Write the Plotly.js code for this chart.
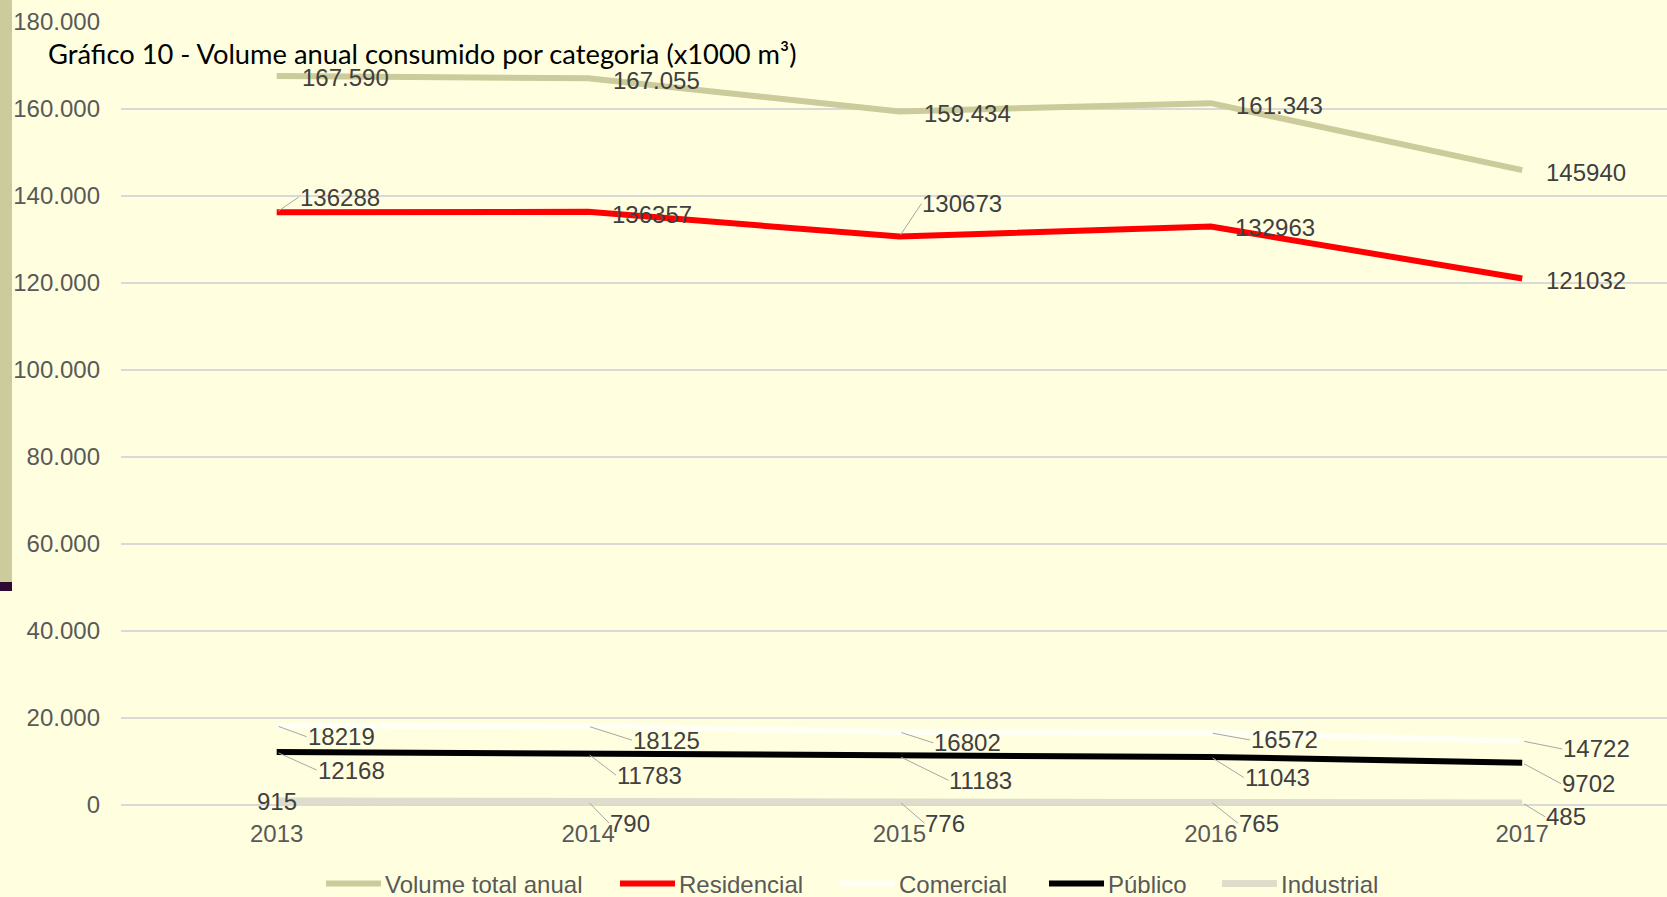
<!DOCTYPE html>
<html>
<head>
<meta charset="utf-8">
<script src="https://cdn.plot.ly/plotly-3.0.1.min.js"></script>
<style>
  html, body { margin: 0; padding: 0; background: #FFFFE0; }
  #wrap { position: relative; width: 1667px; height: 897px; overflow: hidden; }
  #chart { width: 1667px; height: 897px; }
  #barA { position: absolute; left: 0; top: 0; width: 12px; height: 582px; background: #CBCB9B; }
  #barB { position: absolute; left: 0; top: 582px; width: 12px; height: 9px; background: #2E0A33; }
</style>
</head>
<body>
<div id="wrap">
  <div id="chart"></div>
  <div id="barA"></div>
  <div id="barB"></div>
</div>
<script>
// ---- data ----
const years = ['2013', '2014', '2015', '2016', '2017'];
const seriesNames = ['Volume total anual', 'Residencial', 'Comercial', 'Público', 'Industrial'];
const volumeTotal = [167590, 167055, 159434, 161343, 145940];
const residencial = [136288, 136357, 130673, 132963, 121032];
const comercial   = [18219, 18125, 16802, 16572, 14722];
const publico     = [12168, 11783, 11183, 11043, 9702];
const industrial  = [915, 790, 776, 765, 485];
const totalLabelGrouped = [true, true, true, true, false];
const yTickValues = [0, 20000, 40000, 60000, 80000, 100000, 120000, 140000, 160000, 180000];

// ---- styling ----
const colors = ['#CBCB9B', '#FF0000', '#FFFFF4', '#000000', '#DEDDCB'];
const widths = [6, 6, 6, 6, 7];
// legend entry left positions (px in page)
const legendLeft = [326, 620, 840, 1049, 1222];
const legendSymbolLength = 55;

// label placements (pixel offsets from the point: dx right, dy down; leader = draw leader line)
const labelPlacement = [
  { dx: [24, 24, 24, 24, 23], dy: [2, 2, 2, 2, 2], leader: [0, 0, 0, 0, 0] },
  { dx: [24, 23, 24, 23, 23], dy: [-15, 2.5, -33, 1, 2], leader: [1, 0, 1, 0, 0] },
  { dx: [32, 46, 36, 41, 42], dy: [11, 14, 11, 7, 8], leader: [1, 1, 1, 1, 1] },
  { dx: [42, 30, 51, 35, 41], dy: [18, 21.5, 24, 20.5, 21], leader: [1, 1, 1, 1, 1] },
  { dx: [0, 23, 27, 29, 25], dy: [0, 21.5, 21.5, 21.5, 14], leader: [0, 1, 1, 1, 1] }
];

const allSeries = [volumeTotal, residencial, comercial, publico, industrial];

function groupDots(v) {
  return String(v).replace(/\B(?=(\d{3})+(?!\d))/g, '.');
}

const traces = allSeries.map((vals, i) => ({
  type: 'scatter',
  mode: 'lines',
  name: seriesNames[i],
  x: years,
  y: vals,
  line: { color: colors[i], width: widths[i] },
  legend: i === 0 ? 'legend' : 'legend' + (i + 1),
  hoverinfo: 'x+y+name'
}));

const annotations = [];
allSeries.forEach((vals, s) => {
  const p = labelPlacement[s];
  vals.forEach((v, k) => {
    let txt = String(v);
    if (s === 0 && totalLabelGrouped[k]) txt = groupDots(v);
    const base = {
      x: k, y: v, xref: 'x', yref: 'y',
      text: txt,
      font: { family: 'Liberation Sans, Arial, sans-serif', size: 24, color: '#404040' },
      yanchor: 'middle',
      borderpad: 0
    };
    if (p.leader[k]) {
      annotations.push(Object.assign(base, {
        showarrow: true, arrowhead: 0, arrowwidth: 1, arrowcolor: '#A6A6A6',
        ax: p.dx[k] - 2, ay: p.dy[k], axref: 'pixel', ayref: 'pixel',
        xanchor: 'left', standoff: 2
      }));
    } else {
      annotations.push(Object.assign(base, {
        showarrow: false,
        xanchor: p.dx[k] === 0 ? 'center' : 'left',
        xshift: p.dx[k], yshift: -p.dy[k]
      }));
    }
  });
});

const layout = {
  width: 1667, height: 897,
  paper_bgcolor: '#FFFFE0',
  plot_bgcolor: '#FFFFE0',
  separators: ',.',
  margin: { l: 121, r: 0, t: 22, b: 92, pad: 0, autoexpand: false },
  font: { family: 'Liberation Sans, Arial, sans-serif', size: 24, color: '#595959' },
  title: {
    text: 'Gráfico 10 - Volume anual consumido por categoria (x1000 m³)',
    xref: 'container', yref: 'container',
    x: 48 / 1667, xanchor: 'left',
    y: 1 - 54 / 897, yanchor: 'middle',
    font: { family: 'Lato, Noto Sans, sans-serif', size: 27.3, color: '#000000' }
  },
  xaxis: {
    type: 'category',
    range: [-0.5, 4.465],
    showgrid: false, zeroline: false, showline: false,
    ticks: '',
    tickfont: { size: 24, color: '#595959' },
    ticklabelstandoff: 12,
    fixedrange: true
  },
  yaxis: {
    range: [0, 180000],
    tickvals: yTickValues,
    tickformat: ',d',
    showgrid: true, gridcolor: '#D9D9D9', gridwidth: 1.5,
    zeroline: true, zerolinecolor: '#D9D9D9', zerolinewidth: 1.5,
    showline: false, ticks: '',
    tickfont: { size: 24, color: '#595959' },
    ticklabelstandoff: 20,
    fixedrange: true
  },
  showlegend: true,
  annotations: annotations
};

legendLeft.forEach((px, i) => {
  const key = i === 0 ? 'legend' : 'legend' + (i + 1);
  layout[key] = {
    orientation: 'h',
    xref: 'container', yref: 'container',
    x: (px - 5) / 1667, xanchor: 'left',
    y: 1 - 884 / 897, yanchor: 'middle',
    font: { size: 24, color: '#595959' },
    bgcolor: 'rgba(0,0,0,0)',
    itemwidth: legendSymbolLength - 1
  };
});

Plotly.newPlot('chart', traces, layout, { displayModeBar: false, staticPlot: true }).then(gd => {
  gd.querySelectorAll('.legendlines path').forEach(p => {
    p.setAttribute('d', 'M5,0h' + legendSymbolLength);
  });
});
</script>
</body>
</html>
